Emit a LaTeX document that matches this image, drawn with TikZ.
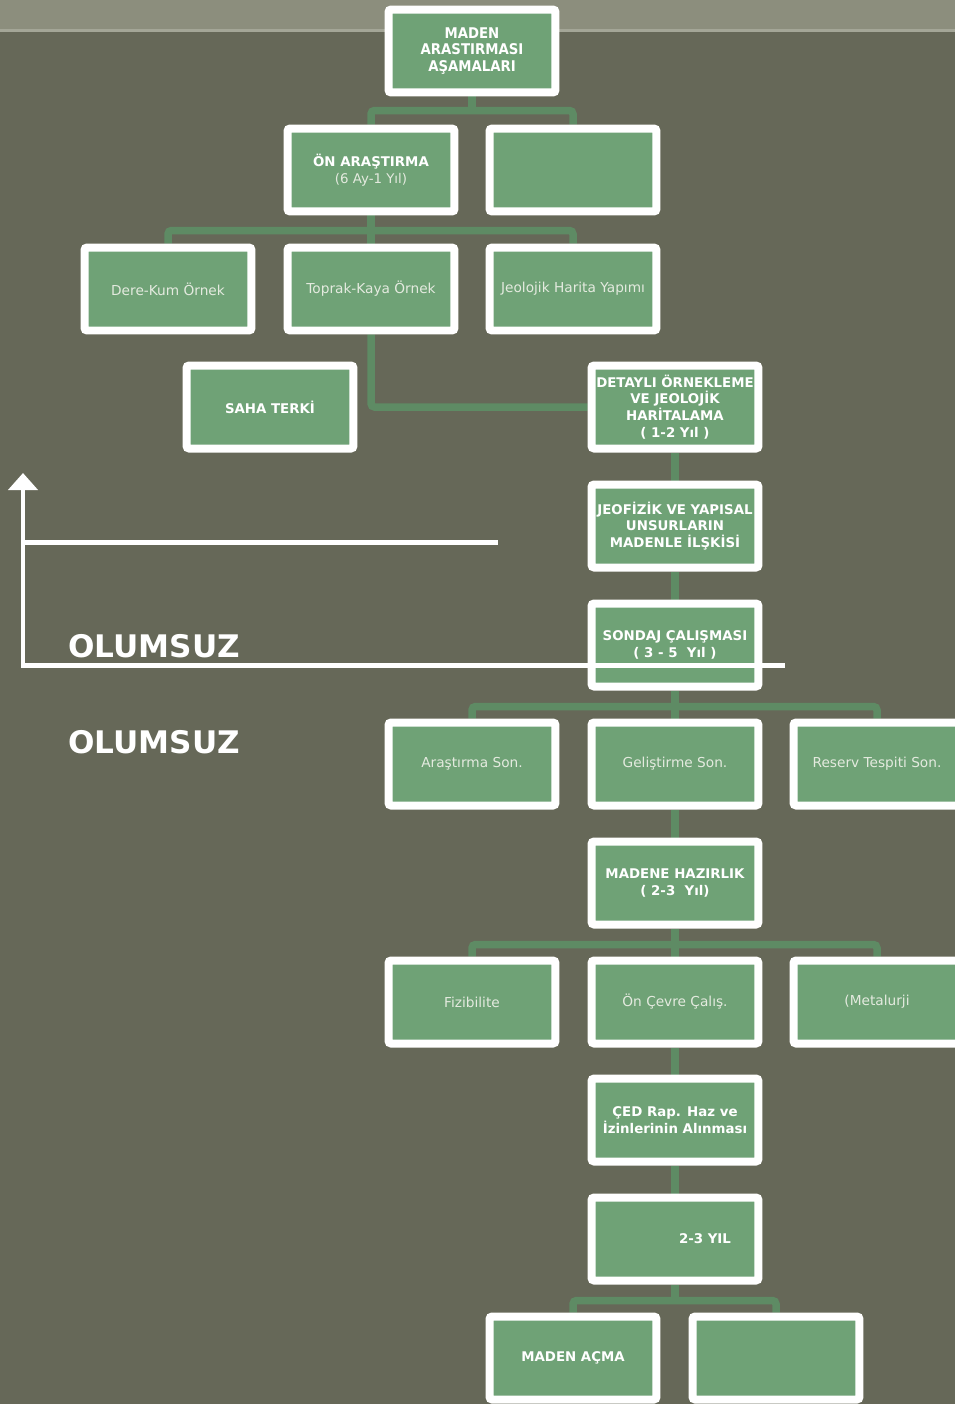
\documentclass[tikz,border=0pt]{standalone}
\usepackage{fontspec}
\setmainfont{DejaVu Sans}
\newfontfamily\condfont{DejaVu Sans Condensed}
\usepackage{tikz}
\usetikzlibrary{positioning,arrows.meta}
\definecolor{bggrey}{HTML}{666858}
\definecolor{bandgrey}{HTML}{8C8E7D}
\definecolor{bandline}{HTML}{A4A697}
\definecolor{boxgreen}{HTML}{6FA276}
\definecolor{linkgreen}{HTML}{5E8B64}
\definecolor{softwhite}{HTML}{E4EADF}
\pgfdeclarelayer{back}
\pgfdeclarelayer{links}
\pgfsetlayers{back,links,main}
\tikzset{
stage/.style={draw=white, fill=boxgreen, line width=0.16cm, rounded corners=1.5pt,
  minimum width=3.34cm, minimum height=1.66cm, inner sep=0pt, align=center,
  text=white, font=\fontsize{7.6}{9.5}\selectfont\bfseries}, % white framed green box
plain/.style={stage, text=softwhite, font=\fontsize{7.8}{9.5}\selectfont}, % box with plain text
link/.style={draw=linkgreen, line width=0.15cm, rounded corners=2pt}, % green connectors
whiteline/.style={draw=white, line width=0.1cm},
olum/.style={text=white, font=\fontsize{17.7}{20}\selectfont\bfseries, anchor=base west, inner sep=0pt}
}
\begin{document}
\begin{tikzpicture}[x=0.02cm, y=-0.02cm]
    \useasboundingbox (0,0) rectangle (955,1404);
    \begin{pgfonlayer}{back}
    \fill [bggrey] (0,0) rectangle (955,1404);
    \fill [bandgrey] (0,0) rectangle (955,30);
    \fill [bandline] (0,29) rectangle (955,32);
    \end{pgfonlayer}
    % boxes
    \node [stage, font=\fontsize{8.4}{9.4}\selectfont\condfont\bfseries] (top) at (472,51) {MADEN\\ARASTIRMASI\\AŞAMALARI};
    \node [stage] (on) at (371,170) {ÖN ARAŞTIRMA\\{\mdseries\color{softwhite}(6 Ay-1 Yıl)}};
    \node [stage] (bos1) at (573,170) {};
    \node [plain] (dere) at (168,289) {Dere-Kum Örnek};
    \node [plain] (toprak) at (371,289) {Toprak-Kaya Örnek};
    \node [plain] (jeo) at (573,289) {Jeolojik Harita Yapımı};
    \node [stage] (saha) at (270,407) {SAHA TERKİ};
    \node [stage] (detay) at (675,407) {DETAYLI ÖRNEKLEME\\VE JEOLOJİK\\HARİTALAMA\\( 1-2 Yıl )};
    \node [stage] (jeofizik) at (675,526) {JEOFİZİK VE YAPISAL\\UNSURLARIN\\MADENLE İLŞKİSİ};
    \node [stage] (sondaj) at (675,645) {SONDAJ ÇALIŞMASI\\( 3 - 5~~Yıl )};
    \node [plain] (arsson) at (472,764) {Araştırma Son.};
    \node [plain] (gelson) at (675,764) {Geliştirme Son.};
    \node [plain] (rezson) at (877,764) {Reserv Tespiti Son.};
    \node [stage] (hazir) at (675,883) {MADENE HAZIRLIK\\( 2-3~~Yıl)};
    \node [plain] (fizi) at (472,1002) {Fizibilite};
    \node [plain] (cevre) at (675,1002) {Ön Çevre Çalış.};
    \node [plain] (metal) at (877,1002) {(Metalurji};
    \node [stage] (ced) at (675,1120) {ÇED Rap. Haz ve\\İzinlerinin Alınması};
    \node [stage] (yil) at (675,1239) {\hspace*{1.2cm}2-3 YIL};
    \node [stage] (acma) at (573,1358) {MADEN AÇMA};
    \node [stage] (bos2) at (776,1358) {};
    % connectors
    \begin{pgfonlayer}{links}
    \draw [link] (top.south) -- ++(0,14);
    \draw [link] (on.north) -- ++(0,-14) -| (bos1.north);
    \draw [link] (on.south) -- (toprak.north);
    \draw [link] (dere.north) -- ++(0,-13) -| (jeo.north);
    \draw [link] (toprak.south) |- (detay.west);
    \draw [link] (detay.south) -- (jeofizik.north);
    \draw [link] (jeofizik.south) -- (sondaj.north);
    \draw [link] (sondaj.south) -- (gelson.north);
    \draw [link] (arsson.north) -- ++(0,-12) -| (rezson.north);
    \draw [link] (gelson.south) -- (hazir.north);
    \draw [link] (hazir.south) -- (cevre.north);
    \draw [link] (fizi.north) -- ++(0,-12) -| (metal.north);
    \draw [link] (cevre.south) -- (ced.north);
    \draw [link] (ced.south) -- (yil.north);
    \draw [link] (yil.south) -- ++(0,16);
    \draw [link] (acma.north) -- ++(0,-12) -| (bos2.north);
    \end{pgfonlayer}
    % white return arrow
    \coordinate (tip) at (23,473);
    \coordinate (bend) at (23,665);
    \coordinate (lineend) at (785,665);
    \coordinate (midstart) at (25,542);
    \coordinate (midend) at (498,542);
    \draw [whiteline, -{Triangle[width=0.58cm,length=0.34cm]}] (lineend) -- (bend) -- (tip);
    \draw [whiteline] (midstart) -- (midend);
    \node [olum] (olum1) at (68,657) {OLUMSUZ};
    \node [olum] (olum2) at (68,753) {OLUMSUZ};
\end{tikzpicture}
\end{document}
